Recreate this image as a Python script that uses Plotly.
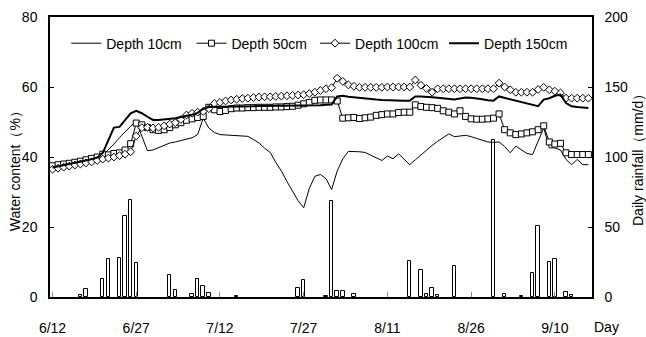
import plotly.graph_objects as go

# ---------------- data ----------------
days = list(range(97))  # day index, 0 = 6/12
tick_days = [0, 15, 30, 45, 60, 75, 90]
tick_labels = ["6/12", "6/27", "7/12", "7/27", "8/11", "8/26", "9/10"]

depth10 = [36.5, 37.0, 37.3, 37.6, 38.0, 38.3, 38.7, 39.2, 39.7, 40.5,
           42.0, 43.7, 45.5, 47.3, 48.8, 50.2, 46.0, 41.8, 42.0, 42.7,
           43.3, 44.0, 44.3, 44.7, 45.0, 45.5, 46.4, 51.1, 48.3, 47.0,
           46.4, 46.3, 46.2, 46.3, 46.2, 45.9, 45.0, 44.0, 42.5, 41.3,
           38.5, 36.0, 33.0, 30.2, 27.5, 25.5, 31.0, 34.5, 35.0, 33.8,
           30.7, 36.0, 39.5, 41.6, 41.6, 41.5, 41.3, 40.5, 39.8, 39.0,
           40.3, 39.5, 40.9, 39.3, 37.8, 39.2, 40.6, 42.0, 43.3, 44.5,
           45.5, 46.6, 45.8, 46.0, 46.2, 45.8, 45.3, 44.8, 44.3, 44.2,
           44.3, 43.0, 41.2, 43.1, 42.0, 41.0, 40.7, 44.5, 48.3, 42.6,
           42.6, 42.0, 39.3, 37.8, 39.3, 37.8, 37.8]

depth50 = [37.5, 37.8, 38.0, 38.2, 38.5, 38.8, 39.2, 39.6, 40.0, 40.8,
           40.6, 41.0, 41.2, 42.0, 43.8, 49.7, 49.2, 48.4, 47.8, 47.6,
           47.8, 48.4, 49.2, 49.8, 50.5, 50.9, 51.3, 51.6, 54.2, 53.5,
           53.0, 53.3, 53.8, 54.0, 54.0, 54.1, 54.1, 54.2, 54.2, 54.2,
           54.3, 54.3, 54.4, 54.5, 54.8, 55.2, 55.6, 56.2, 56.3, 56.3,
           56.3, 56.0, 51.1, 51.2, 51.3, 51.0, 51.2, 51.4, 51.9, 52.1,
           52.3, 52.3, 52.7, 52.8, 52.8, 54.9, 54.4, 54.2, 54.1, 53.9,
           53.2, 52.8, 52.3, 53.2, 51.6, 50.9, 50.8, 50.8, 50.9, 51.1,
           52.3, 47.8, 46.9, 46.4, 46.6, 46.9, 47.2, 47.8, 48.9, 44.3,
           43.7, 43.9, 41.2, 40.7, 40.7, 40.7, 40.7]

depth100 = [36.5, 36.8, 37.1, 37.4, 37.7, 38.0, 38.3, 38.6, 39.0, 39.4,
            39.7, 40.0, 40.4, 40.8, 41.5, 46.0, 48.4, 48.5, 48.3, 48.5,
            48.9, 49.4, 49.8, 50.7, 52.0, 52.5, 52.8, 53.0, 53.8, 55.3,
            55.6, 56.0, 56.3, 56.5, 56.7, 56.8, 57.0, 57.1, 57.2, 57.2,
            57.3, 57.4, 57.5, 57.6, 57.7, 57.8, 58.1, 58.5, 59.0, 59.5,
            59.8, 62.5, 61.6, 60.6, 60.2, 59.9, 59.9, 59.9, 59.9, 59.9,
            60.0, 60.0, 60.0, 60.0, 60.0, 62.0, 60.5, 59.6, 58.5, 59.5,
            59.5, 59.5, 59.5, 59.5, 59.5, 59.5, 59.5, 59.5, 59.5, 59.5,
            61.1, 60.0, 59.2, 58.5, 58.5, 58.5, 58.5, 59.3, 59.9, 59.2,
            58.8, 58.3, 56.8, 56.8, 56.8, 56.8, 56.8]

depth150 = [37.0, 37.3, 37.6, 38.0, 38.3, 38.7, 39.0, 39.4, 39.8, 41.2,
            45.0, 48.4, 48.6, 50.5, 52.5, 53.2, 52.5, 51.5, 50.6, 50.6,
            50.7, 50.9, 51.1, 51.4, 51.7, 52.1, 52.6, 53.8, 54.3, 54.3,
            54.4, 54.4, 54.4, 54.5, 54.5, 54.5, 54.5, 54.6, 54.6, 54.6,
            54.6, 54.7, 54.7, 54.7, 54.7, 54.8, 54.8, 54.8, 54.8, 54.9,
            55.0, 57.3, 57.5, 57.2, 57.0, 56.8, 56.6, 56.5, 56.4, 56.3,
            56.2, 56.2, 56.1, 56.1, 56.1, 57.3, 57.3, 57.3, 57.1, 56.9,
            56.7, 56.5, 56.4, 56.7, 57.0, 56.9, 56.8, 56.5, 56.2, 56.1,
            57.3, 56.9, 56.4, 56.0, 55.7, 55.3, 54.9, 54.5, 56.4, 56.8,
            57.5, 57.8, 55.4, 54.5, 54.3, 54.1, 54.0]

rain_days = [5, 6, 9, 10, 12, 13, 14, 15, 21, 22, 25, 26, 27, 28, 33,
             44, 45, 49, 50, 51, 52, 54, 64, 66, 67, 68, 69, 72, 79, 81,
             84, 86, 87, 89, 90, 92, 93]
rain_mm = [1.7, 6.0, 13.0, 27.0, 27.6, 58.0, 69.0, 24.0, 15.5, 4.8, 2.0,
           13.0, 8.0, 2.6, 1.0, 6.7, 12.0, 1.0, 68.6, 4.3, 4.3, 2.4, 25.5,
           19.0, 2.4, 6.2, 1.4, 22.0, 112.0, 2.4, 0.7, 17.4, 50.7, 25.2,
           26.9, 3.6, 1.2]

# ---------------- figure ----------------
FONT = "Liberation Sans, Arial, sans-serif"
FS = 14

fig = go.Figure()

fig.add_trace(go.Bar(
    x=rain_days, y=rain_mm, yaxis="y", width=0.62,
    marker=dict(color="white", line=dict(color="black", width=1)),
    showlegend=False, name="rain"))

fig.add_trace(go.Scatter(
    x=days, y=depth10, yaxis="y2", mode="lines", name="Depth 10cm",
    legend="legend", line=dict(color="black", width=1)))
fig.add_trace(go.Scatter(
    x=days, y=depth50, yaxis="y2", mode="lines+markers", name="Depth 50cm",
    legend="legend2", line=dict(color="black", width=1),
    marker=dict(symbol="square", size=6, color="white",
                line=dict(color="black", width=1))))
fig.add_trace(go.Scatter(
    x=days, y=depth100, yaxis="y2", mode="lines+markers", name="Depth 100cm",
    legend="legend3", line=dict(color="black", width=1),
    marker=dict(symbol="diamond", size=6, color="white",
                line=dict(color="black", width=1))))
fig.add_trace(go.Scatter(
    x=days, y=depth150, yaxis="y2", mode="lines", name="Depth 150cm",
    legend="legend4", line=dict(color="black", width=2)))

axis_common = dict(showgrid=False, zeroline=False, showline=True,
                   linecolor="black", linewidth=1.5, automargin=False,
                   tickfont=dict(family=FONT, size=FS, color="black"))


def legend_at(xpos):
    return dict(orientation="h", x=xpos, xanchor="left", y=0.905,
                yanchor="middle", bgcolor="rgba(0,0,0,0)", borderwidth=0,
                font=dict(family=FONT, size=FS), itemwidth=30)


fig.update_layout(
    template="none",
    width=646, height=337,
    margin=dict(l=50, r=54, t=17, b=40, autoexpand=False),
    paper_bgcolor="white", plot_bgcolor="white",
    font=dict(family=FONT, size=FS, color="black"),
    bargap=0,
    xaxis=dict(
        range=[-0.45, 96.65], tickvals=tick_days, ticktext=tick_labels,
        ticks="inside", ticklen=5, tickcolor="#888", tickwidth=1,
        mirror=True, ticklabelstandoff=17, **axis_common),
    yaxis=dict(
        side="right", range=[0, 200], tickvals=[0, 50, 100, 150, 200],
        ticks="inside", ticklen=4, tickcolor="black", tickwidth=1,
        ticklabelstandoff=8, **axis_common),
    yaxis2=dict(
        side="left", overlaying="y", range=[0, 80],
        tickvals=[0, 20, 40, 60, 80],
        ticks="inside", ticklen=4, tickcolor="black", tickwidth=1,
        ticklabelstandoff=8, **axis_common),
    legend=legend_at(0.030),
    legend2=legend_at(0.261),
    legend3=legend_at(0.489),
    legend4=legend_at(0.727),
    annotations=[
        dict(text="Water content（%）", textangle=-90, xref="paper",
             yref="paper", x=0, y=0.46, xshift=-35, showarrow=False,
             xanchor="center", yanchor="middle",
             font=dict(family=FONT, size=FS)),
        dict(text="Daily rainfall（mm/d）", textangle=-90, xref="paper",
             yref="paper", x=1, y=0.5, xshift=46, showarrow=False,
             xanchor="center", yanchor="middle",
             font=dict(family=FONT, size=FS)),
        dict(text="Day", xref="paper", yref="paper", x=1, y=0,
             xshift=14, yshift=-30, showarrow=False,
             xanchor="center", yanchor="middle",
             font=dict(family=FONT, size=FS)),
    ],
)

fig.write_html("out.html")
